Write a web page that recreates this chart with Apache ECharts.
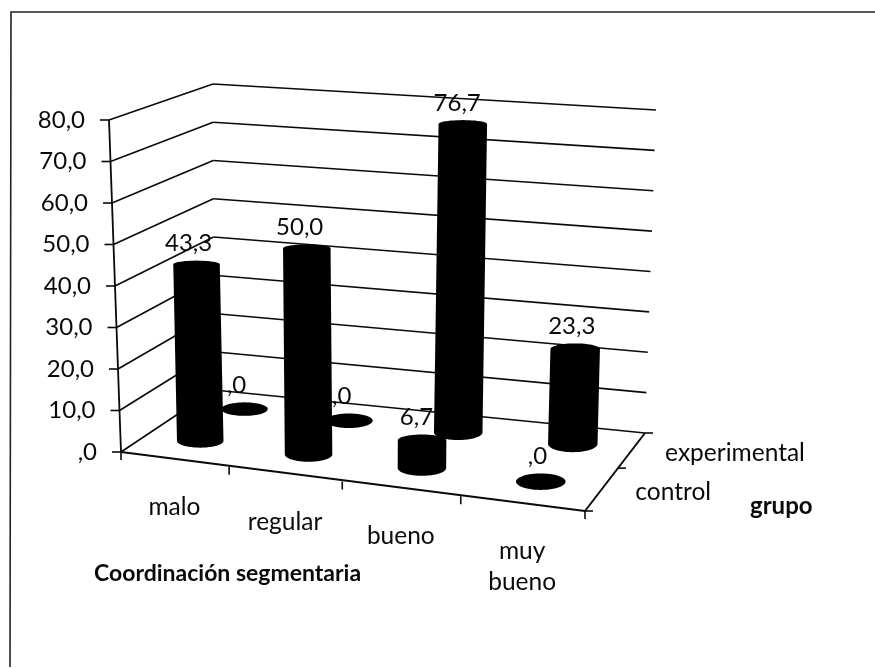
<!DOCTYPE html>
<html>
<head>
<meta charset="utf-8">
<title>Coordinación segmentaria</title>
<style>
  html, body { margin: 0; padding: 0; background: #fff; }
  #chart { width: 875px; height: 668px; }
</style>
<script src="https://cdn.jsdelivr.net/npm/echarts@6/dist/echarts.min.js"></script>
</head>
<body>
<div id="chart"></div>
<script>
const categories = ['malo', 'regular', 'bueno', 'muy\nbueno']
const depthLabels = ['control', 'experimental']
const controlValues = [43.3, 50.0, 6.7, 0]
const experimentalValues = [0, 0, 76.7, 23.3]
const yTicks = [0, 10, 20, 30, 40, 50, 60, 70, 80]

const FONT = 'Lato, "Open Sans", sans-serif'
const INK = '#0a0a0a'
const grid = { left: 121, top: 120, width: 464, height: 332 }

// corners of the 3D box in pixels, bottom and top of the four verticals
const box = {
  frontLeft: [[121, 452], [109, 120]],
  frontRight: [[585, 511], [592, 166]],
  backLeft: [[214, 390], [213, 84]],
  backRight: [[645, 433], [656, 110]],
}

function lerp(a, b, t) {
  return a + (b - a) * t
}

// perspective squeeze, k > 1 pulls towards 0
function warp(v, k) {
  return v / (v + (1 - v) * k)
}

// u: along categories, d: depth, t: height, all 0..1
function project(u, d, t) {
  const out = [0, 0]
  const dw = warp(d, 0.82)
  for (let k = 0; k < 2; k++) {
    const uw = k === 0 ? warp(u, 1.097) : u
    const bottom = lerp(
      lerp(box.frontLeft[0][k], box.frontRight[0][k], uw),
      lerp(box.backLeft[0][k], box.backRight[0][k], uw),
      dw,
    )
    const top = lerp(
      lerp(box.frontLeft[1][k], box.frontRight[1][k], uw),
      lerp(box.backLeft[1][k], box.backRight[1][k], uw),
      dw,
    )
    out[k] = lerp(bottom, top, t)
  }
  return out
}

function fmt(v) {
  return v.toFixed(1).replace('.', ',').replace(/^0/, '')
}

function line(a, b, width) {
  return {
    type: 'line',
    shape: { x1: a[0], y1: a[1], x2: b[0], y2: b[1] },
    style: { stroke: INK, lineWidth: width || 1.6 },
  }
}

function label(text, x, y, align, extra) {
  return {
    type: 'text',
    z2: 10,
    style: Object.assign(
      { text, x, y, align, verticalAlign: 'middle', fill: INK, fontSize: 24, fontFamily: FONT },
      extra,
    ),
  }
}

function renderWall(params, api) {
  const t = (grid.top + grid.height - api.coord([0, api.value(1)])[1]) / grid.height
  const front = project(0, 0, t)
  const back = project(0, 1, t)
  const right = project(1, 1, t)
  return {
    type: 'group',
    children: [
      line(front, back),
      line(back, right),
      line([front[0] - 9, front[1]], front),
      label(fmt(api.value(1)), front[0] - 24, front[1], 'right'),
    ],
  }
}

function renderFloor() {
  const children = [
    line(project(0, 0, 0), project(0, 0, 1), 1.8),
    line(project(0, 0, 0), project(1, 0, 0), 2),
    line(project(1, 0, 0), project(1, 1, 0), 2),
  ]
  for (let i = 0; i <= categories.length; i++) {
    const p = project(i / categories.length, 0, 0)
    children.push(line(p, [p[0], p[1] + 8]))
  }
  for (let i = 0; i <= depthLabels.length; i++) {
    const p = project(1, i / depthLabels.length, 0)
    children.push(line(p, [p[0] + 8, p[1]]))
  }
  categories.forEach((c, i) => {
    const p = project((i + 0.5) / categories.length, 0, 0)
    children.push(label(c, p[0], p[1] + 32, 'center', { verticalAlign: 'top', lineHeight: 31, fontSize: 24.5 }))
  })
  depthLabels.forEach((c, i) => {
    const p = project(1, (i + 0.5) / depthLabels.length, 0)
    children.push(label(c, p[0] + 33, p[1] + 3.5, 'left', { fontSize: 24.5 }))
  })
  return { type: 'group', children }
}

function cylinderRenderer(depth) {
  return function (params, api) {
    const v = api.value(1)
    const c = api.coord([api.value(0), v])
    const u = (c[0] - grid.left) / grid.width
    const t = (grid.top + grid.height - c[1]) / grid.height
    const base = project(u, depth, 0)
    const top = project(u, depth, t)
    const rx = 23 + 2 * u
    const ryBottom = 6.5 + 2 * u
    const ryTop = v > 0 ? ryBottom - 2 - 2 * t : ryBottom
    const points = []
    for (let i = 0; i <= 24; i++) {
      const a = Math.PI + (Math.PI * i) / 24
      points.push([top[0] + rx * Math.cos(a), top[1] + ryTop * Math.sin(a)])
    }
    for (let i = 0; i <= 24; i++) {
      const a = (Math.PI * i) / 24
      points.push([base[0] + rx * Math.cos(a), base[1] + ryBottom * Math.sin(a)])
    }
    return {
      type: 'group',
      children: [
        { type: 'polygon', shape: { points }, style: { fill: '#000' } },
        label(fmt(v), top[0] - 8 + 6 * u * u, top[1] - ryTop - 17, 'center'),
      ],
    }
  }
}

const chart = echarts.init(document.getElementById('chart'), null, { renderer: 'canvas' })

chart.setOption({
  animation: false,
  backgroundColor: '#fff',
  grid: { left: grid.left, top: grid.top, width: grid.width, height: grid.height },
  xAxis: { type: 'category', data: categories, show: false },
  yAxis: { type: 'value', min: 0, max: 80, interval: 10, show: false },
  graphic: [
    {
      type: 'polyline',
      shape: { points: [[10, 667], [11, 12], [875, 12]] },
      style: { stroke: '#222', lineWidth: 1.6, fill: 'none' },
    },
    {
      type: 'text',
      left: 94,
      top: 562,
      style: { text: 'Coordinación segmentaria', fontSize: 23, fontWeight: 'bold', fontFamily: FONT, fill: INK },
    },
    {
      type: 'text',
      left: 750,
      top: 494,
      style: { text: 'grupo', fontSize: 24, fontWeight: 'bold', fontFamily: FONT, fill: INK },
    },
  ],
  series: [
    { type: 'custom', silent: true, data: yTicks.map((t) => [0, t]), renderItem: renderWall },
    { type: 'custom', silent: true, data: [[0, 0]], renderItem: renderFloor },
    {
      type: 'custom',
      silent: true,
      name: depthLabels[1],
      data: experimentalValues.map((v, i) => [i, v]),
      renderItem: cylinderRenderer(0.75),
    },
    {
      type: 'custom',
      silent: true,
      name: depthLabels[0],
      data: controlValues.map((v, i) => [i, v]),
      renderItem: cylinderRenderer(0.25),
    },
  ],
})
</script>
</body>
</html>
